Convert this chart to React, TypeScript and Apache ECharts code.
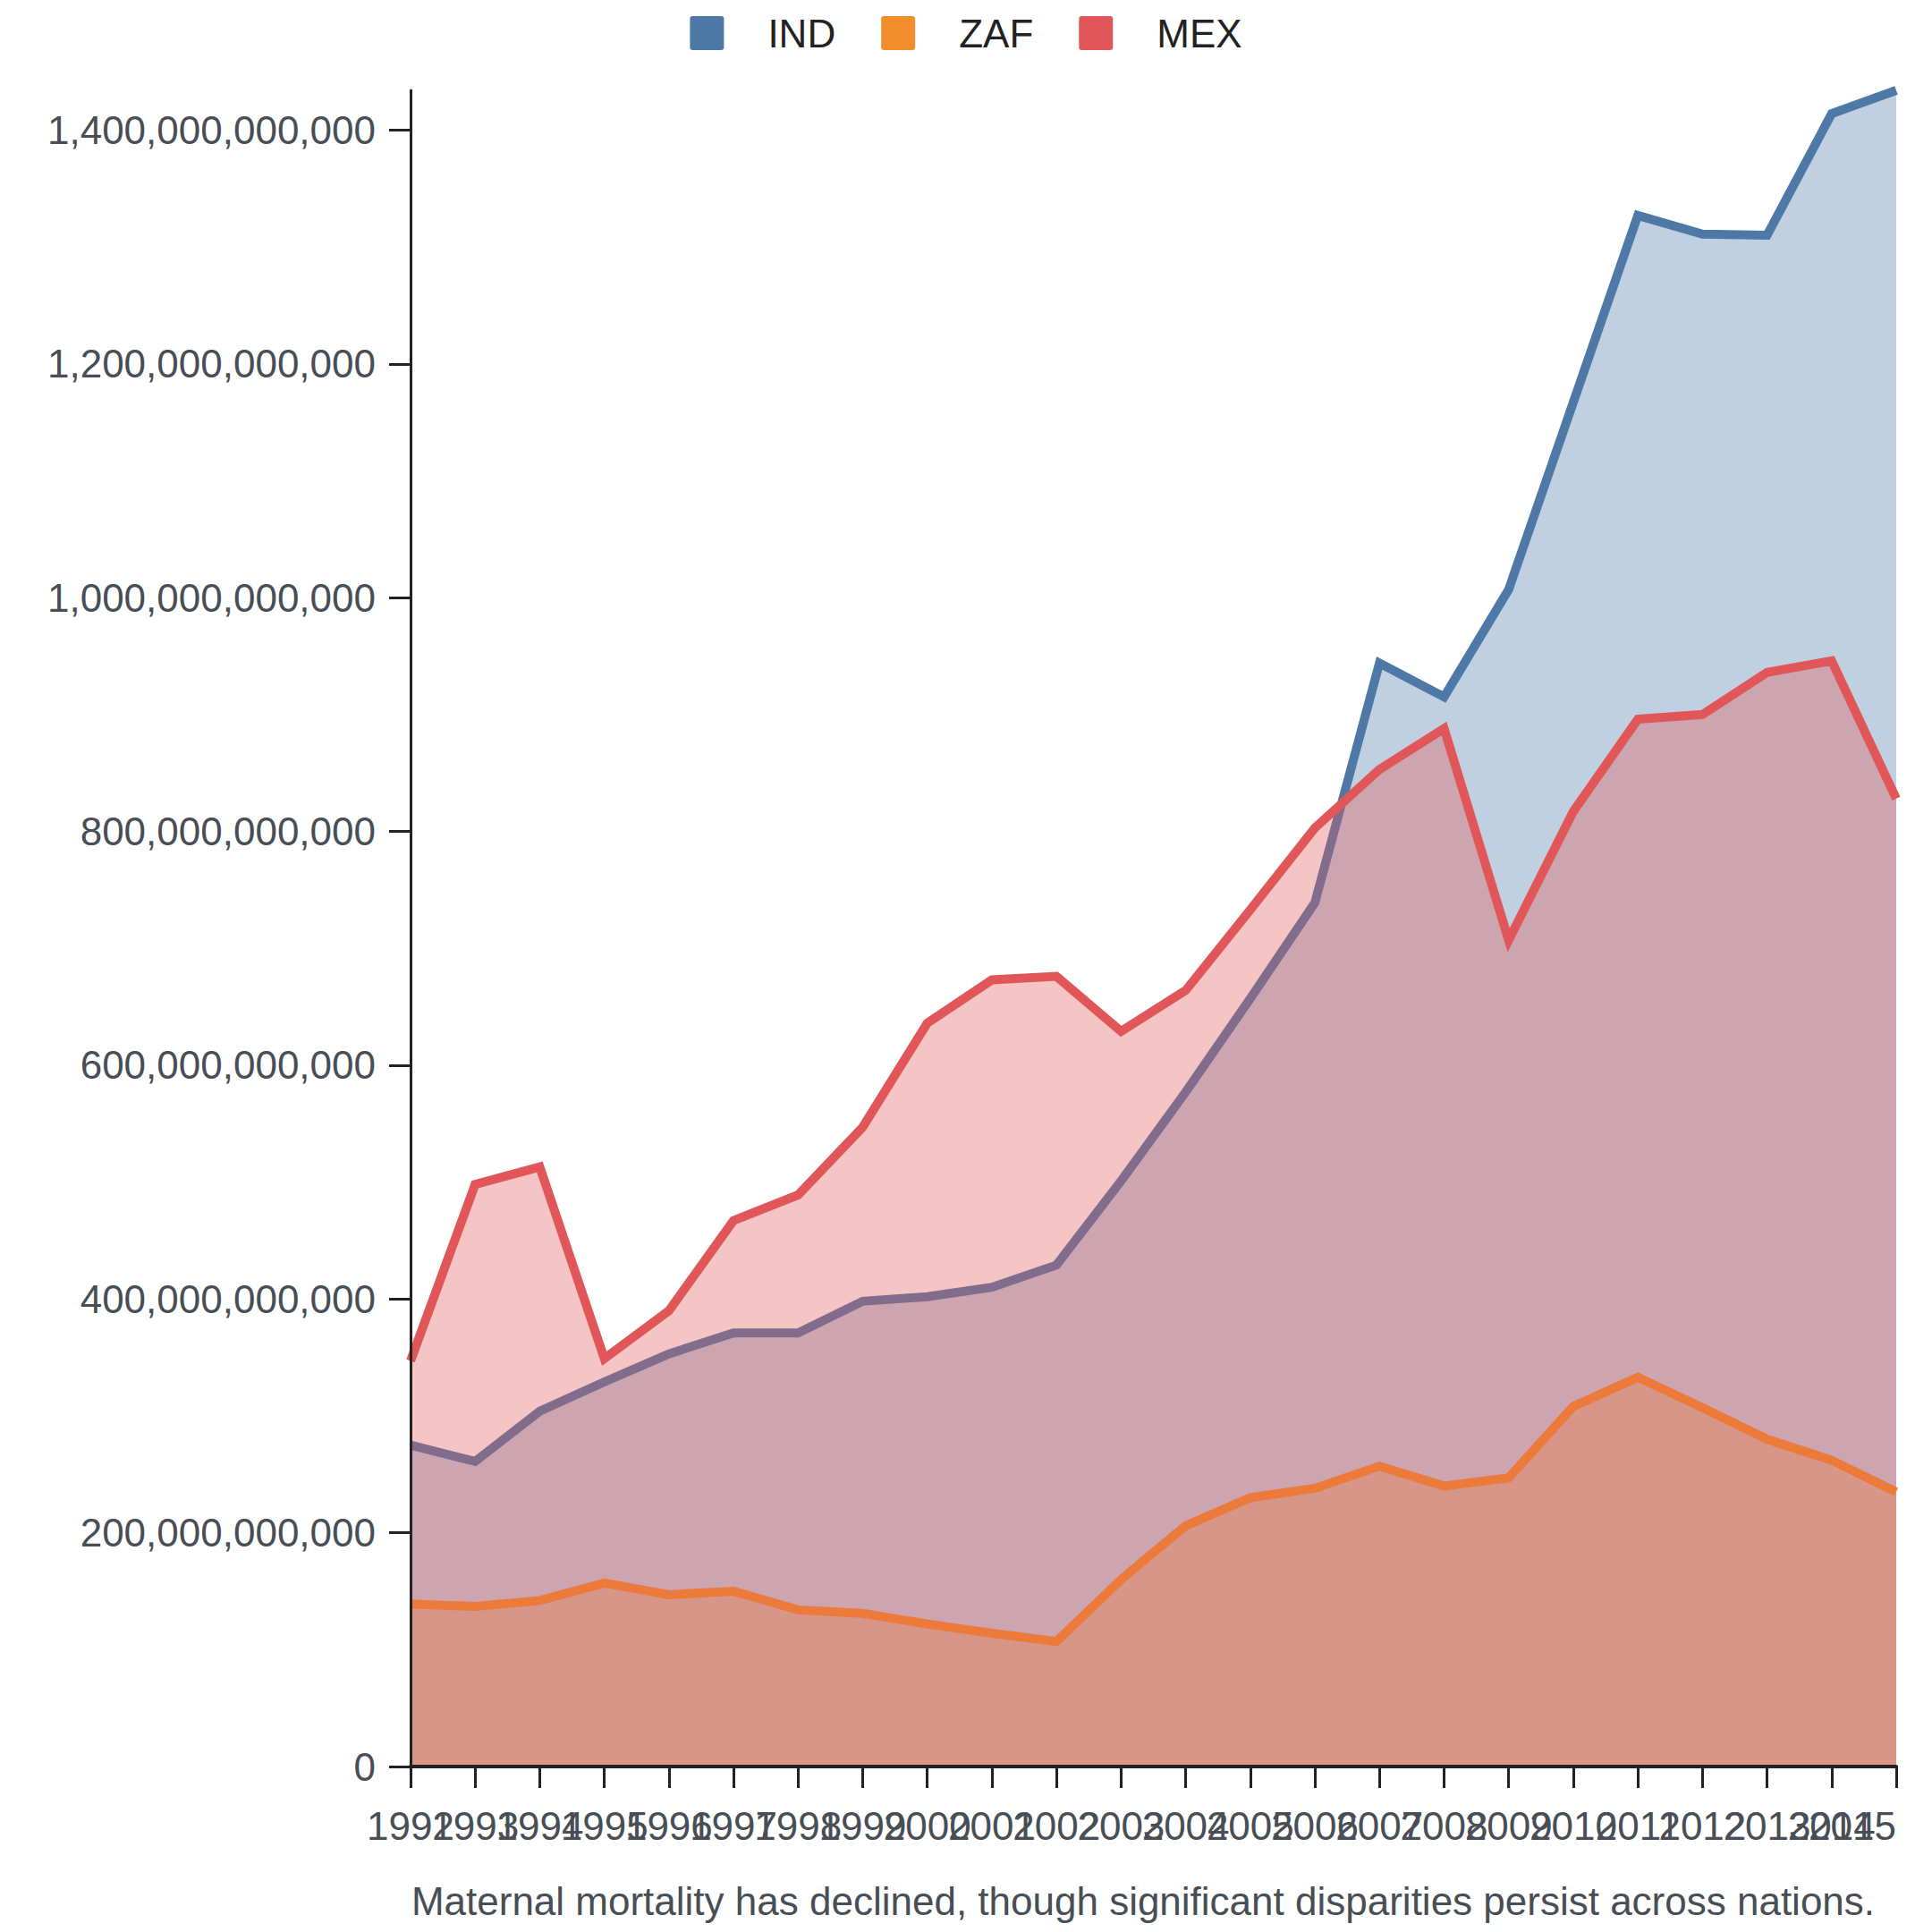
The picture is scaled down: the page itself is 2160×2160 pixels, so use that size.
import { useEffect, useRef } from 'react';
import * as echarts from 'echarts';

const years = [
  '1992', '1993', '1994', '1995', '1996', '1997', '1998', '1999', '2000', '2001', '2002', '2003',
  '2004', '2005', '2006', '2007', '2008', '2009', '2010', '2011', '2012', '2013', '2014', '2015',
];

// values in billions
const indValues = [275, 261, 304, 329, 353, 371, 371, 398, 402, 410, 429, 501, 577, 657, 739, 944, 915, 1007, 1167, 1327, 1311, 1310, 1414, 1434];
const zafValues = [139, 137, 142, 157, 147, 150, 134, 131, 122, 114, 107, 160, 206, 230, 238, 257, 240, 247, 308, 333, 307, 280, 262, 235];
const mexValues = [347, 498, 513, 349, 390, 467, 489, 547, 636, 673, 676, 629, 664, 733, 803, 853, 888, 707, 817, 896, 900, 936, 946, 828];

const yTicks = [0, 200, 400, 600, 800, 1000, 1200, 1400];

const seriesNames = ['IND', 'ZAF', 'MEX'];
const seriesColors = ['#4e79a7', '#f28e2b', '#e15759'];

const caption = 'Maternal mortality has declined, though significant disparities persist across nations.';

const FONT = 'Liberation Sans, Arial, sans-serif';
const LABEL_COLOR = '#484e55';
const AXIS_COLOR = '#222';

// square with small rounded corners for the legend
const LEGEND_ICON =
  'path://M3,0h29a3,3 0 0 1 3,3v29a3,3 0 0 1 -3,3h-29a3,3 0 0 1 -3,-3v-29a3,3 0 0 1 3,-3z';

export default function App() {
  const chartRef = useRef<HTMLDivElement>(null);

  useEffect(() => {
    if (!chartRef.current) return;
    document.body.style.margin = '0';

    const chart = echarts.init(chartRef.current, null, { renderer: 'svg' });

    const dataSets = [indValues, zafValues, mexValues];
    const tickValues = yTicks.map(v => v * 1e9);

    const option: echarts.EChartsOption = {
      animation: false,
      backgroundColor: '#fff',
      textStyle: { fontFamily: FONT },
      legend: {
        top: 10,
        left: 'center',
        data: seriesNames,
        icon: LEGEND_ICON,
        itemWidth: 38,
        itemHeight: 38,
        itemGap: 51,
        textStyle: {
          fontSize: 44,
          color: '#222',
          fontFamily: FONT,
          padding: [0, 0, 0, 44],
        },
      },
      grid: {
        left: 459,
        right: 40,
        top: 101,
        bottom: 185,
        containLabel: false,
        outerBoundsMode: 'none',
      } as any,
      xAxis: {
        type: 'category',
        data: years,
        boundaryGap: false,
        z: 10,
        axisLine: { lineStyle: { color: AXIS_COLOR, width: 4 } },
        axisTick: {
          alignWithLabel: true,
          interval: 0,
          length: 24,
          lineStyle: { color: AXIS_COLOR, width: 3 },
        },
        axisLabel: {
          interval: 0,
          margin: 44,
          fontSize: 44,
          color: LABEL_COLOR,
          fontFamily: FONT,
          hideOverlap: false,
          alignMaxLabel: 'right',
        } as any,
        splitLine: { show: false },
      },
      yAxis: {
        type: 'value',
        min: 0,
        max: (v: { max: number }) => v.max,
        z: 10,
        axisLine: { show: true, lineStyle: { color: AXIS_COLOR, width: 3 } },
        axisTick: {
          show: true,
          length: 24,
          lineStyle: { color: AXIS_COLOR, width: 3 },
          customValues: tickValues,
        } as any,
        axisLabel: {
          margin: 39,
          fontSize: 44,
          color: LABEL_COLOR,
          fontFamily: FONT,
          customValues: tickValues,
          formatter: (value: number) => Math.round(value).toLocaleString('en-US'),
        } as any,
        splitLine: { show: false },
      },
      // each series on its own z so later areas cover earlier lines
      series: seriesNames.map((name, i) => ({
        name,
        type: 'line',
        z: 2 + i,
        data: dataSets[i].map(v => v * 1e9),
        showSymbol: false,
        symbol: 'none',
        color: seriesColors[i],
        lineStyle: { color: seriesColors[i], width: 10, join: 'miter' },
        areaStyle: { color: seriesColors[i], opacity: 0.35 },
        emphasis: { disabled: true },
      })),
      graphic: [
        {
          type: 'text',
          x: 1278,
          y: 2125,
          style: {
            text: caption,
            fontSize: 44,
            fontFamily: FONT,
            fill: LABEL_COLOR,
            align: 'center',
            verticalAlign: 'middle',
            textAlign: 'center',
            textVerticalAlign: 'middle',
          } as any,
        },
      ],
    };

    chart.setOption(option);

    return () => {
      chart.dispose();
    };
  }, []);

  return <div ref={chartRef} style={{ width: '2160px', height: '2160px' }} />;
}
